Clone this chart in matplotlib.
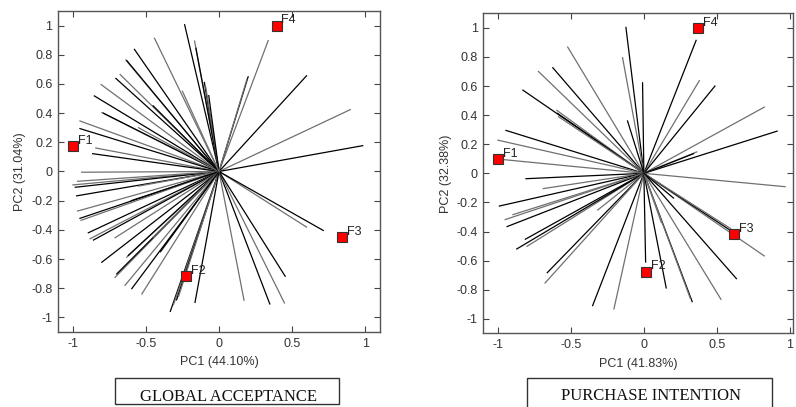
import matplotlib
matplotlib.use('Agg')
import matplotlib.pyplot as plt
from matplotlib.patches import Rectangle
import numpy as np

plt.rcParams['font.family'] = ['Liberation Sans', 'DejaVu Sans']

# sample scores (red squares)
samples = ['F1', 'F2', 'F3', 'F4']
ga_sample_x = [-1.0, -0.224, 0.842, 0.393]
ga_sample_y = [0.174, -0.716, -0.452, 1.0]
pi_sample_x = [-0.998, 0.016, 0.617, 0.374]
pi_sample_y = [0.098, -0.676, -0.42, 1.0]

# consumer loadings - global acceptance
ga_load_x = [-0.235, -0.167, -0.158, -0.441, -0.578, -0.637, -0.630, -0.676, -0.705, -0.806,
             -0.852, -0.801, -0.790, -0.950, -0.950, -0.842, -0.863, -0.938, -0.100, -0.090,
             -0.070, -0.998, -0.982, -0.966, -0.973, -0.966, -0.950, -0.943, -0.893, -0.881,
             -0.858, -0.710, -0.801, -0.630, -0.620, -0.710, -0.699, -0.642, -0.596, -0.527,
             -0.333, -0.311, -0.290, -0.276, -0.164, 0.171, 0.347, 0.447, 0.452, 0.598,
             0.712, 0.336, 0.199, 0.190, 0.598, 0.897, 0.982, -0.550, -0.600, -0.450,
             -0.400, -0.550, -0.450, -0.250]
ga_load_y = [1.006, 0.894, 0.845, 0.913, 0.837, 0.764, 0.760, 0.665, 0.638, 0.596,
             0.518, 0.404, 0.400, 0.346, 0.294, 0.161, 0.122, -0.005, 0.610, 0.575,
             0.520, -0.092, -0.108, -0.067, -0.167, -0.271, -0.321, -0.335, -0.420, -0.461,
             -0.470, -0.454, -0.622, -0.587, -0.575, -0.725, -0.702, -0.780, -0.803, -0.839,
             -0.959, -0.913, -0.880, -0.855, -0.897, -0.883, -0.908, -0.901, -0.718, -0.381,
             -0.404, 0.897, 0.649, 0.630, 0.656, 0.424, 0.177, -0.100, -0.200, -0.450,
             -0.550, 0.300, 0.450, 0.550]

# consumer loadings - purchase intention
pi_load_x = [-0.123, -0.146, -0.009, -0.522, -0.624, -0.722, -0.829, -0.597, -0.592, -0.585,
             -0.945, -1.000, -0.112, -0.980, 0.358, 0.380, 0.487, 0.825, 0.913, 0.362,
             0.340, 0.968, -0.808, -0.689, -0.990, -0.950, -0.937, -0.897, -0.812, -0.801,
             -0.871, -0.316, -0.662, -0.677, -0.351, -0.205, 0.012, 0.825, 0.585, 0.595,
             0.634, 0.528, 0.331, 0.317, 0.153, 0.120, 0.203]
pi_load_y = [1.003, 0.795, 0.622, 0.868, 0.726, 0.700, 0.572, 0.433, 0.412, 0.389,
             0.295, 0.228, 0.360, 0.096, 0.914, 0.637, 0.600, 0.455, 0.290, 0.147,
             0.135, -0.092, -0.037, -0.105, -0.225, -0.318, -0.366, -0.284, -0.453, -0.502,
             -0.520, -0.252, -0.683, -0.754, -0.909, -0.932, -0.610, -0.568, -0.387, -0.380,
             -0.724, -0.866, -0.882, -0.857, -0.788, -0.339, -0.170]

xticks = [-1, -0.5, 0, 0.5, 1]
yticks = [-1, -0.8, -0.6, -0.4, -0.2, 0, 0.2, 0.4, 0.6, 0.8, 1]


def draw_panel(ax, lx, ly, sx, sy, xlab, ylab, xlim):
    for i, (x, y) in enumerate(zip(lx, ly)):
        col = 'black' if i % 2 == 0 else '#707070'
        ax.plot([0, x], [0, y], color=col, lw=0.9, zorder=1)
    ax.plot(sx, sy, 's', color='red', mec='#333333', mew=0.8, ms=6.5, zorder=3)
    for name, x, y in zip(samples, sx, sy):
        ax.annotate(name, (x, y), xytext=(3.5, -0.5), textcoords='offset points',
                    ha='left', va='bottom', fontsize=9, color='#222222')
    ax.set_xlim(*xlim)
    ax.set_ylim(-1.1, 1.1)
    ax.set_xticks(xticks)
    ax.set_yticks(yticks)
    ax.set_xticklabels(['%g' % t for t in xticks])
    ax.set_yticklabels(['%g' % t for t in yticks])
    ax.tick_params(direction='in', top=True, right=True, length=4, width=0.8,
                   labelsize=9, labelcolor='#333333', color='#444444', pad=4)
    for s in ax.spines.values():
        s.set_color('#555555')
        s.set_linewidth(1.0)
    ax.set_xlabel(xlab, fontsize=9, color='#333333', labelpad=5)
    ax.set_ylabel(ylab, fontsize=9, color='#333333', labelpad=3.5)


fig = plt.figure(figsize=(7.96, 4.07), dpi=100)
ax1 = fig.add_axes([0.0729, 0.1843, 0.4045, 0.7887])
ax2 = fig.add_axes([0.6072, 0.1810, 0.3887, 0.7863])

draw_panel(ax1, ga_load_x, ga_load_y, ga_sample_x, ga_sample_y,
           'PC1 (44.10%)', 'PC2 (31.04%)', (-1.1, 1.1))
draw_panel(ax2, pi_load_x, pi_load_y, pi_sample_x, pi_sample_y,
           'PC1 (41.83%)', 'PC2 (32.38%)', (-1.1, 1.02))

# caption boxes
fig.patches.append(Rectangle((0.1445, 0.0074), 0.2814, 0.0639, transform=fig.transFigure,
                             fill=False, edgecolor='#333333', lw=1.0))
fig.patches.append(Rectangle((0.662, -0.05), 0.3078, 0.1213, transform=fig.transFigure,
                             fill=False, edgecolor='#333333', lw=1.0))
fig.text(0.2875, 0.0155, 'GLOBAL ACCEPTANCE', ha='center', va='baseline',
         fontsize=12, family='Liberation Serif', color='#111111')
fig.text(0.8176, 0.0172, 'PURCHASE INTENTION', ha='center', va='baseline',
         fontsize=12, family='Liberation Serif', color='#111111')

fig.savefig('out.png', dpi=100)
